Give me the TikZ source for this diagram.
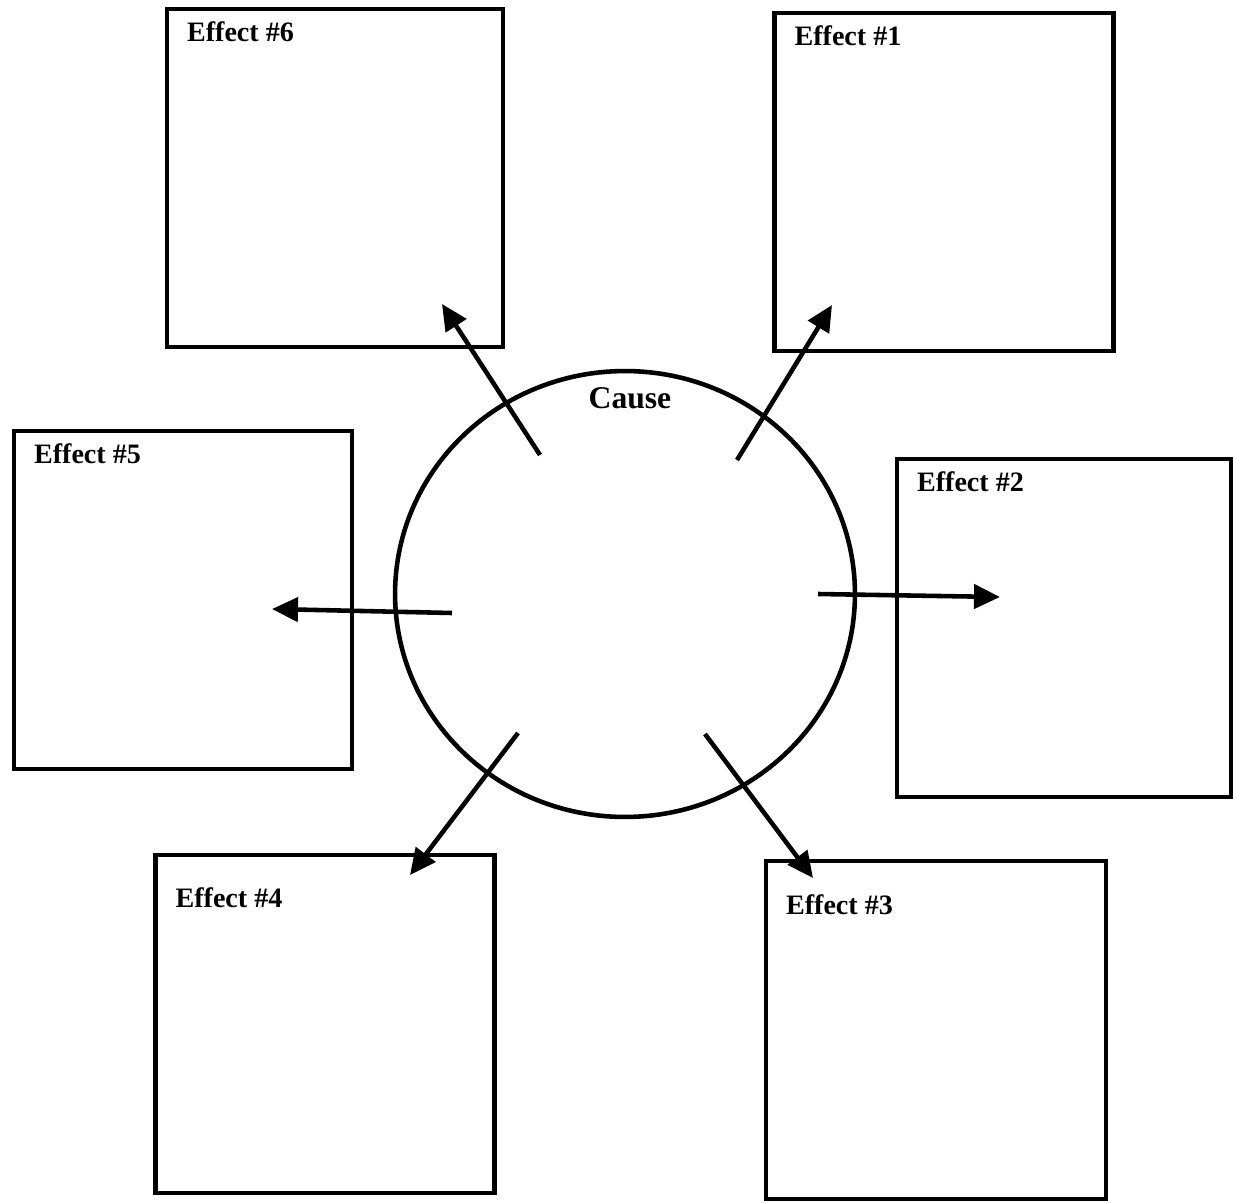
\documentclass[tikz,border=0pt]{standalone}
\usepackage{fontspec}
\setmainfont{Liberation Serif}
\usetikzlibrary{arrows.meta,positioning,shapes.geometric}

\begin{document}
\begin{tikzpicture}[x=0.02cm, y=-0.02cm, line width=2.6pt,
  effectbox/.style={draw, rectangle, minimum height=6.76cm, inner sep=0pt},
  tag/.style={anchor=base west, inner sep=0pt, font=\fontsize{16}{19}\selectfont\bfseries},
  causearrow/.style={-{Triangle[length=0.52cm,width=0.48cm]}}]
  \useasboundingbox (0,0) rectangle (1234,1203);

  % the cause in the middle
  \node[draw, ellipse, minimum width=9.2cm, minimum height=8.92cm, inner sep=0pt] (cause) at (625,594) {};
  \node[anchor=base, inner sep=0pt, font=\fontsize{18}{21}\selectfont\bfseries] (causetag) at (630,408) {Cause};

  % effect boxes
  \foreach \n/\x/\y/\w/\dy in {%
    6/335/178/6.72cm/35,%
    1/944/182/6.78cm/35,%
    5/183/600/6.76cm/35,%
    2/1064/628/6.68cm/35,%
    4/325/1024/6.78cm/55,%
    3/936/1030/6.80cm/56%
  }{
    \node[effectbox, minimum width=\w] (e\n) at (\x,\y) {};
    \node[tag] (t\n) at ([shift={(20,\dy)}]e\n.north west) {Effect \#\n};
  }

  % arrows out of the cause
  \foreach \n/\sx/\sy/\tx/\ty in {%
    1/737/460/832/305,%
    2/818/594/1000/597,%
    3/705/734/813/878,%
    4/518/733/410/875,%
    5/452/613/272/609,%
    6/540/455/442/304%
  }{
    \coordinate (s\n) at (\sx,\sy);
    \coordinate (a\n) at (\tx,\ty);
    \draw[causearrow] (s\n) -- (a\n);
  }
\end{tikzpicture}
\end{document}
